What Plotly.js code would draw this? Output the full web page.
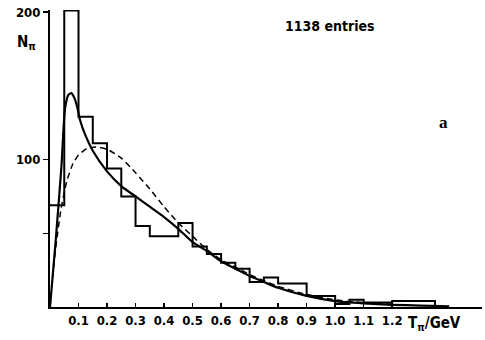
<!DOCTYPE html>
<html>
<head>
<meta charset="utf-8">
<script src="https://cdn.plot.ly/plotly-3.0.1.min.js"></script>
<style>html,body{margin:0;padding:0;background:#fff;}#chart{width:485px;height:340px;}</style>
</head>
<body>
<div id="chart"></div>
<script>
// Histogram bin edges (GeV) and counts
const binEdges = [0,0.05,0.1,0.15,0.2,0.25,0.3,0.35,0.45,0.5,0.55,0.6,0.65,0.7,0.75,0.8,0.9,1.0,1.05,1.1,1.2,1.35];
const binCounts = [69,201,129,111,94,75,55,48,57,41,36,30,26,17,20,16,7.5,2,5,3,4];

// Solid curve
const solidX = [0,0.02,0.04,0.053,0.065,0.075,0.085,0.095,0.105,0.125,0.15,0.2,0.25,0.3,0.35,0.4,0.45,0.5,0.55,0.6,0.65,0.7,0.75,0.8,0.9,1.0,1.1,1.2,1.3,1.4];
const solidY = [0,45,95,135,144,145,142,136,127,116,106,92,82,75,68,61,53,44,38,31,26,21,17,13,7.5,4,2.5,1.5,1,0.5];

// Dashed curve
const dashX = [0,0.02,0.04,0.06,0.08,0.1,0.13,0.16,0.2,0.25,0.3,0.35,0.4,0.45,0.5,0.55,0.6,0.65,0.7,0.8,0.9,1.0,1.1,1.2];
const dashY = [0,40,68,86,97,103,107.5,108.5,107,101,91,80,68,57,48,39,32,27,22,14,8.5,4.8,3,1.8];

// Axis ticks
const xTickVals = [0.1,0.2,0.3,0.4,0.5,0.6,0.7,0.8,0.9,1.0,1.1,1.2];
const xTickText = ['0.1','0.2','0.3','0.4','0.5','0.6','0.7','0.8','0.9','1.0','1.1','1.2'];
const yTickVals = [50,100,200];
const yTickText = [' ','100','200'];

// step line from histogram arrays
const stepX = binEdges.slice();
const stepY = binCounts.concat([binCounts[binCounts.length-1]]);
stepX.push(binEdges[binEdges.length-1]);
stepY.push(0);

const FONT = '"DejaVu Sans Condensed","DejaVu Sans",sans-serif';

const traces = [
  {x: stepX, y: stepY, mode: 'lines', line: {shape: 'hv', color: '#000', width: 2}, hoverinfo: 'skip'},
  {x: solidX, y: solidY, mode: 'lines', line: {shape: 'spline', smoothing: 0.6, color: '#000', width: 2.2}, hoverinfo: 'skip'},
  {x: dashX, y: dashY, mode: 'lines', line: {shape: 'spline', smoothing: 0.6, color: '#000', width: 1.5, dash: '6px,4px'}, hoverinfo: 'skip'}
];

const layout = {
  width: 485, height: 340,
  margin: {l: 50, r: 3, t: 10, b: 33},
  paper_bgcolor: '#fff', plot_bgcolor: '#fff',
  showlegend: false,
  font: {family: FONT, size: 13, color: '#000', weight: 'bold'},
  xaxis: {
    range: [0, 1.515], showgrid: false, zeroline: false,
    showline: true, linecolor: '#000', linewidth: 2,
    ticks: 'inside', ticklen: 4, tickwidth: 1.5, tickcolor: '#000',
    tickvals: xTickVals, ticktext: xTickText,
    tickfont: {family: FONT, size: 13, color: '#000', weight: 'bold'}
  },
  yaxis: {
    range: [0, 201.4], showgrid: false, zeroline: false,
    showline: true, linecolor: '#000', linewidth: 2,
    ticks: 'outside', ticklen: 5, tickwidth: 1.5, tickcolor: '#000',
    tickvals: yTickVals, ticktext: yTickText,
    tickfont: {family: FONT, size: 13, color: '#000', weight: 'bold'}
  },
  annotations: [
    {xref: 'paper', yref: 'paper', x: -0.028, y: 0.892, xanchor: 'right', yanchor: 'middle', showarrow: false,
     text: 'N<sub>π</sub>', font: {family: FONT, size: 15, color: '#000', weight: 'bold'}},
    {xref: 'paper', yref: 'paper', x: 0.54, y: 0.946, xanchor: 'left', yanchor: 'middle', showarrow: false,
     text: '1138 entries', font: {family: FONT, size: 14, color: '#000', weight: 'bold'}},
    {xref: 'paper', yref: 'paper', x: 0.91, y: 0.62, xanchor: 'center', yanchor: 'middle', showarrow: false,
     text: '<b>a</b>', font: {family: '"Liberation Serif","DejaVu Serif",serif', size: 17, color: '#000'}},
    {xref: 'x', yref: 'paper', x: 1.25, y: -0.054, xanchor: 'left', yanchor: 'middle', showarrow: false,
     text: 'T<sub>π</sub>/GeV', font: {family: FONT, size: 15, color: '#000', weight: 'bold'}}
  ]
};

Plotly.newPlot('chart', traces, layout, {staticPlot: true, displayModeBar: false});
</script>
</body>
</html>
